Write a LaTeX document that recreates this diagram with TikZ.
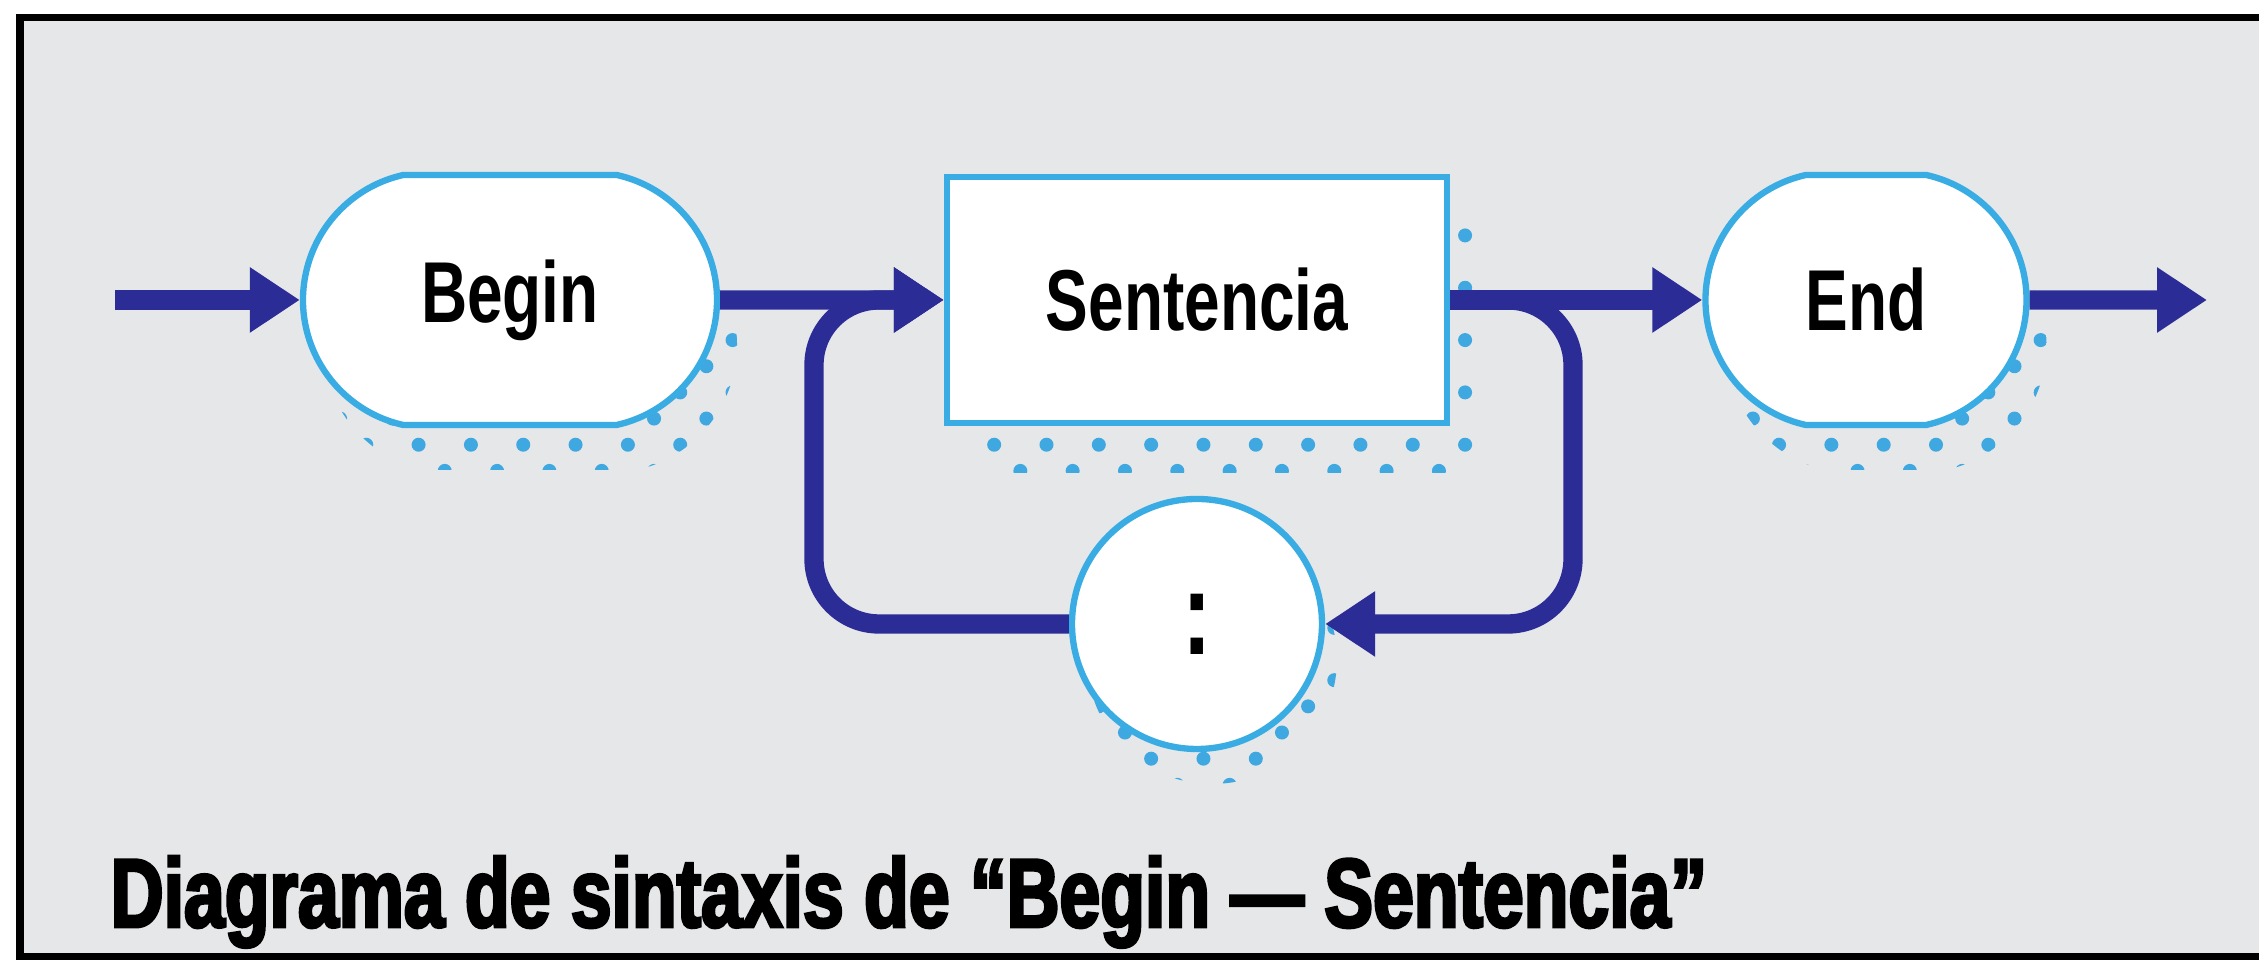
\documentclass[tikz,border=0pt]{standalone}
\usepackage{fontspec}
\usepackage{tikz}
\usetikzlibrary{arrows.meta}
\usetikzlibrary{positioning}
\usetikzlibrary{shapes.misc}
\usetikzlibrary{patterns.meta}
\newfontfamily\boxfont{Liberation Sans}[FakeStretch=0.74]
\newfontfamily\capfont{Liberation Sans}[FakeStretch=0.75, BoldFeatures={FakeBold=3}]
\definecolor{linkblue}{RGB}{44,44,150}
\definecolor{edgecyan}{RGB}{58,172,228}
\definecolor{dotcyan}{RGB}{64,168,224}
\definecolor{paper}{RGB}{229,231,233}
\tikzstyle{every node}+=[inner sep=0pt]
\tikzstyle{term} = [rounded rectangle, rounded rectangle arc length=155, draw=edgecyan, fill=white, line width=1.8pt, minimum height=2.5cm, font=\boxfont\bfseries\fontsize{24.6pt}{26pt}\selectfont]
\tikzstyle{word} = [rectangle, draw=edgecyan, fill=white, line width=1.8pt, minimum width=5cm, minimum height=2.46cm, font=\boxfont\bfseries\fontsize{24.6pt}{26pt}\selectfont]
\tikzstyle{sep} = [circle, draw=edgecyan, fill=white, line width=1.8pt, minimum size=2.5cm, font=\boxfont\bfseries\fontsize{34pt}{36pt}\selectfont]
\tikzstyle{line} = [draw=linkblue, line width=5.5pt, -{Triangle[length=0.5cm, width=0.62cm]}]
\tikzset{dotshadow/.style 2 args={preaction={draw=none, transform canvas={xshift=#1, yshift=#2}, pattern={Dots[radius=0.07cm, distance=0.37cm, angle=45]}, pattern color=dotcyan}}}

\begin{document}
\begin{tikzpicture}[node distance=2cm]
  \useasboundingbox (0,0) rectangle (22.59,9.68);
  % Frame
  \draw [line width=2pt, fill=paper] (0.2,0.11) rectangle (23.5,9.50);
  % Place nodes
  \node [term, minimum width=4.14cm, dotshadow={0.2cm}{-0.45cm}] (begin) at (5.10,6.68) {Begin};
  \node [word, right of=begin, node distance=6.87cm, dotshadow={0.35cm}{-0.5cm}] (sent) {Sentencia};
  \node [term, minimum width=3.21cm, right of=sent, node distance=6.69cm, dotshadow={0.2cm}{-0.45cm}] (finish) {End};
  \node [sep, below of=sent, node distance=3.24cm, dotshadow={0.15cm}{-0.35cm}] (colon) {:};
  \coordinate (in) at (1.15,6.68);
  \coordinate [right of=finish, node distance=3.41cm] (out);
  \coordinate [right of=begin, node distance=3.04cm] (j1);
  \coordinate [left of=finish, node distance=2.93cm] (j2);
  \node [anchor=base west, font=\capfont\bfseries\fontsize{27.8pt}{30pt}\selectfont] (caption) at (1.10,0.41) {Diagrama de sintaxis de “Begin — Sentencia”};
  % Draw edges
  \path [line] (in) -- (begin);
  \path [line] (begin) -- (sent);
  \path [line] (sent) -- (finish);
  \path [line] (finish) -- (out);
  \path [line, rounded corners=0.65cm] (sent) -- (j2) |- (colon);
  \path [line, rounded corners=0.65cm] (colon) -| (j1) -- (sent);
\end{tikzpicture}
\end{document}
